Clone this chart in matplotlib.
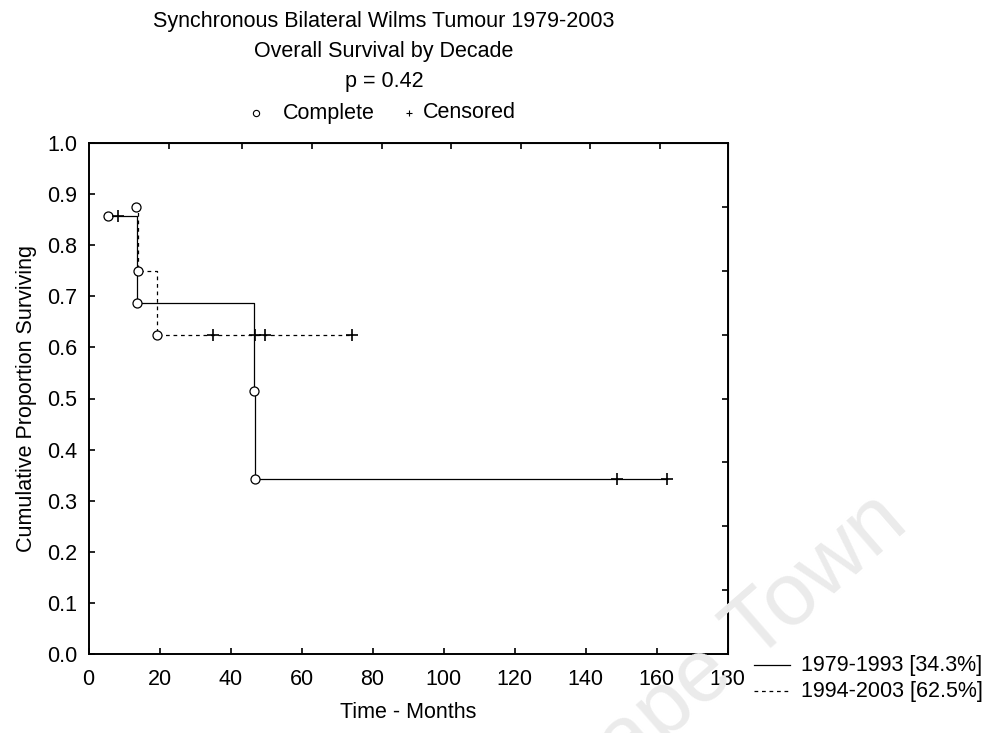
import matplotlib
matplotlib.use("Agg")
import matplotlib.pyplot as plt
from matplotlib.lines import Line2D

plt.rcParams['font.family'] = ['Liberation Sans', 'DejaVu Sans']

# 1979-1993 group (solid)
early_time = [5.6, 8.2, 13.6, 46.5, 46.8, 149, 163]
early_surv = [0.857, 0.857, 0.686, 0.514, 0.343, 0.343, 0.343]
early_event = [1, 0, 1, 1, 1, 0, 0]

# 1994-2003 group (dashed)
late_time = [13.4, 13.9, 19.3, 35.1, 47.0, 49.6, 74.3]
late_surv = [0.875, 0.75, 0.625, 0.625, 0.625, 0.625, 0.625]
late_event = [1, 1, 1, 0, 0, 0, 0]

xticks = [0, 20, 40, 60, 80, 100, 120, 140, 160, 180]
yticks = [0.0, 0.1, 0.2, 0.3, 0.4, 0.5, 0.6, 0.7, 0.8, 0.9, 1.0]
# the frame's top/right ticks don't line up with the labelled ones
top_ticks = [22.6, 43.2, 62.9, 82.8, 102, 121.7, 141.3, 161]
right_ticks = [0.125, 0.25, 0.375, 0.5, 0.625, 0.75, 0.875]
legend_labels = ["1979-1993 [34.3%]", "1994-2003 [62.5%]"]

FS = 15.5
W, H = 991, 733

fig = plt.figure(figsize=(W / 100, H / 100), dpi=100)
fig.patch.set_facecolor("white")

# faint watermark
fig.text(868 / W, 1 - 478 / H, "Cape Town", fontsize=64, color="#ebebeb",
         rotation=41, ha="right", va="top", rotation_mode="anchor", zorder=0)

ax = fig.add_axes([88.5 / W, 1 - 654 / H, 639 / W, 511 / H])
ax.patch.set_alpha(0)

def draw(t, s, ev, ls):
    ax.step(t, s, where="post", color="black", lw=0.9, linestyle=ls)
    for ti, si, e in zip(t, s, ev):
        if e:
            ax.plot(ti, si, marker="o", mfc="white", mec="black", ms=6.5, mew=0.9)
        else:
            ax.plot(ti, si, marker="+", color="black", ms=8, mew=1.2)

draw(early_time, early_surv, early_event, "-")
draw(late_time, late_surv, late_event, (0, (3, 3)))

ax.set_xlim(0, 180)
ax.set_ylim(0, 1)
ax.set_xticks(xticks)
ax.set_yticks(yticks)
ax.set_xticklabels([str(v) for v in xticks], fontsize=FS)
ax.set_yticklabels(["%.1f" % v for v in yticks], fontsize=FS)
ax.tick_params(direction="in", length=4, width=1.2, top=False, right=False)
ax.tick_params(axis="x", pad=11)
ax.tick_params(axis="y", pad=8)
for sp in ax.spines.values():
    sp.set_linewidth(1.4)

top = ax.secondary_xaxis("top")
top.set_xticks(top_ticks)
top.tick_params(direction="in", length=4, width=1.2, labeltop=False)
right = ax.secondary_yaxis("right")
right.set_yticks(right_ticks)
right.tick_params(direction="in", length=4, width=1.2, labelright=False)

fig.text(408 / W, 1 - 712 / H, "Time - Months", fontsize=FS, ha="center", va="center")
fig.text(27 / W, 1 - 398 / H, "Cumulative Proportion Surviving", fontsize=FS,
         rotation=90, ha="center", va="center")

# titles
tx = 384 / W
fig.text(tx, 1 - 22 / H, "Synchronous Bilateral Wilms Tumour 1979-2003", fontsize=FS,
         ha="center", va="center")
fig.text(tx, 1 - 52 / H, "Overall Survival by Decade", fontsize=FS, ha="center", va="center")
fig.text(tx, 1 - 81 / H, "p = 0.42", fontsize=FS, ha="center", va="center")

# marker key
fig.add_artist(Line2D([256 / W], [1 - 113 / H], marker="o", mfc="white", mec="black",
                      ms=4.5, mew=0.8, transform=fig.transFigure))
fig.text(283 / W, 1 - 113 / H, "Complete", fontsize=FS, ha="left", va="center")
fig.add_artist(Line2D([409 / W], [1 - 113 / H], marker="+", color="black",
                      ms=5, mew=0.8, transform=fig.transFigure))
fig.text(423 / W, 1 - 113 / H, "Censored", fontsize=FS, ha="left", va="center")

# series legend
for i, (lab, ls) in enumerate(zip(legend_labels, ["-", (0, (3, 3))])):
    yy = 1 - (665 + 26 * i) / H
    fig.add_artist(Line2D([754 / W, 790 / W], [yy, yy], color="black", lw=0.9,
                          linestyle=ls, transform=fig.transFigure))
    fig.text(801 / W, yy, lab, fontsize=FS, ha="left", va="center")

fig.savefig("out.png", dpi=100)
